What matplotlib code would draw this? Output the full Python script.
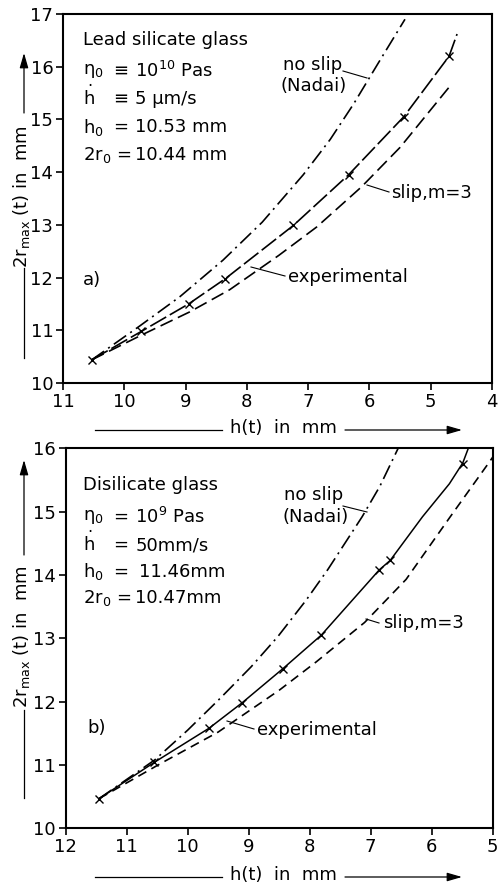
import matplotlib
matplotlib.use("Agg")
import matplotlib.pyplot as plt
from matplotlib.lines import Line2D
from matplotlib.patches import FancyArrowPatch

# ---- panel a) lead silicate glass ----
a_exp_h = [10.53, 9.72, 8.95, 8.35, 7.24, 6.34, 5.44, 4.70]
a_exp_r = [10.44, 10.98, 11.50, 11.98, 12.99, 13.95, 15.05, 16.20]
a_exp_line_h = [10.53, 9.72, 8.95, 8.35, 7.24, 6.34, 5.44, 4.70, 4.57]
a_exp_line_r = [10.44, 10.98, 11.50, 11.98, 12.99, 13.95, 15.05, 16.20, 16.62]
a_noslip_h = [10.53, 9.75, 9.09, 8.39, 7.75, 7.08, 6.64, 6.26, 5.85, 5.42]
a_noslip_r = [10.44, 11.08, 11.64, 12.33, 13.05, 13.95, 14.62, 15.29, 16.08, 16.90]
a_slip_h = [10.53, 9.70, 8.93, 8.28, 7.48, 6.86, 6.13, 5.50, 4.68]
a_slip_r = [10.44, 10.92, 11.35, 11.77, 12.42, 12.96, 13.72, 14.47, 15.64]

# ---- panel b) disilicate glass ----
b_exp_h = [11.45, 10.55, 9.65, 9.11, 8.44, 7.81, 6.86, 6.68, 5.49]
b_exp_r = [10.47, 11.04, 11.58, 11.98, 12.52, 13.05, 14.08, 14.23, 15.76]
b_exp_line_h = [11.45, 10.55, 9.65, 9.11, 8.44, 7.81, 6.86, 6.68, 6.15, 5.71, 5.49, 5.40]
b_exp_line_r = [10.47, 11.04, 11.58, 11.98, 12.52, 13.05, 14.08, 14.23, 14.92, 15.44, 15.77, 16.0]
b_noslip_h = [11.45, 10.54, 10.0, 9.47, 8.96, 8.52, 8.06, 7.70, 7.14, 6.85, 6.55]
b_noslip_r = [10.47, 11.08, 11.55, 12.05, 12.55, 13.03, 13.60, 14.09, 14.92, 15.40, 16.0]
b_slip_h = [11.45, 10.43, 9.50, 8.50, 7.89, 7.10, 6.42, 5.71, 5.05, 4.95]
b_slip_r = [10.47, 11.03, 11.52, 12.18, 12.63, 13.25, 13.93, 14.90, 15.79, 15.93]

FS = 13
W, H = 500, 883

fig = plt.figure(figsize=(5, 8.83), dpi=100)


def f(x, y):
    # reference pixel position (origin top left) -> figure fraction
    return x / W, 1 - y / H


def fig_text(x, y, s, **kw):
    fig.text(*f(x, y), s, fontsize=FS, va="center", ha="left", **kw)


def leader(x0, y0, x1, y1, lw=0.8):
    (a0, b0), (a1, b1) = f(x0, y0), f(x1, y1)
    fig.add_artist(Line2D([a0, a1], [b0, b1], transform=fig.transFigure,
                          color="black", lw=lw))


def arrow(x0, y0, x1, y1):
    fig.add_artist(FancyArrowPatch(f(x0, y0), f(x1, y1), transform=fig.transFigure,
                                   arrowstyle="-|>,head_length=9,head_width=2.6",
                                   lw=0.9, color="black", shrinkA=0, shrinkB=0))


ax_a = fig.add_axes([63 / W, 1 - 383 / H, 429 / W, 369 / H])
ax_b = fig.add_axes([65.7 / W, 1 - 828.3 / H, 427 / W, 380 / H])

dashdot = (0, (9, 3, 1.2, 3))

ax_a.plot(a_noslip_h, a_noslip_r, color="black", lw=1.2, linestyle=dashdot)
ax_a.plot(a_exp_line_h, a_exp_line_r, color="black", lw=1.2, linestyle=(0, (11, 2.5)))
ax_a.plot(a_slip_h, a_slip_r, color="black", lw=1.2, linestyle=(0, (8, 3.5)))
ax_a.plot(a_exp_h, a_exp_r, "x", color="black", ms=6, mew=1.0)
ax_a.set_xlim(11, 4)
ax_a.set_ylim(10, 17)

ax_b.plot(b_noslip_h, b_noslip_r, color="black", lw=1.2, linestyle=dashdot)
ax_b.plot(b_exp_line_h, b_exp_line_r, color="black", lw=1.1)
ax_b.plot(b_slip_h, b_slip_r, color="black", lw=1.2, linestyle=(0, (5.5, 3.5)))
ax_b.plot(b_exp_h, b_exp_r, "x", color="black", ms=6, mew=1.0)
ax_b.set_xlim(12, 5)
ax_b.set_ylim(10, 16)

for ax in (ax_a, ax_b):
    for sp in ax.spines.values():
        sp.set_linewidth(1.5)
    ax.tick_params(direction="out", length=5, width=1.2, labelsize=FS, pad=2)

# axis labels with arrows
for y_txt, y_line, (l0, l1), (u0, u1) in [(197, 428, (358, 268), (113, 53)),
                                           (637, 875, (798, 710), (555, 460))]:
    fig.text(*f(22, y_txt), r"2r$_{\mathrm{max}}$ (t) in  mm", fontsize=FS,
             rotation=90, ha="center", va="center")
    leader(24, l0, 24, l1, lw=0.9)
    arrow(24, u0, 24, u1)
    fig.text(*f(283, y_line), "h(t)  in  mm", fontsize=FS, ha="center", va="center")
    leader(95, y_line + 2, 222, y_line + 2, lw=0.9)
    arrow(345, y_line + 2, 462, y_line + 2)

hdot = r"$\dot{\mathrm{h}}$"

# panel a) annotations
fig_text(83, 40, "Lead silicate glass")
fig_text(83, 71, "η$_0$")
fig_text(113, 71, "≡")
fig_text(135, 71, "10$^{10}$ Pas")
fig_text(83, 97, hdot)
fig_text(113, 99, "≡")
fig_text(135, 99, "5 µm/s")
fig_text(83, 127, "h$_0$")
fig_text(113, 127, "=")
fig_text(135, 127, "10.53 mm")
fig_text(83, 155, "2r$_0$ =")
fig_text(135, 155, "10.44 mm")
fig_text(83, 280, "a)")
fig_text(283, 65, "no slip")
fig_text(281, 86, "(Nadai)")
fig_text(391, 193, "slip,m=3")
fig_text(288, 277, "experimental")
leader(343, 71, 367, 78)
leader(367, 185, 389, 192)
leader(251, 267, 285, 276)

# panel b) annotations
fig_text(83, 485, "Disilicate glass")
fig_text(83, 517, "η$_0$")
fig_text(113, 517, "=")
fig_text(135, 517, "10$^{9}$ Pas")
fig_text(83, 543, hdot)
fig_text(113, 545, "=")
fig_text(136, 545, "50mm/s")
fig_text(83, 572, "h$_0$")
fig_text(113, 572, "=")
fig_text(139, 572, "11.46mm")
fig_text(83, 598, "2r$_0$ =")
fig_text(135, 598, "10.47mm")
fig_text(87, 728, "b)")
fig_text(284, 495, "no slip")
fig_text(283, 517, "(Nadai)")
fig_text(383, 623, "slip,m=3")
fig_text(257, 730, "experimental")
leader(343, 506, 367, 512)
leader(366, 619, 379, 623)
leader(227, 721, 254, 729)

fig.savefig("out.png", dpi=100)
